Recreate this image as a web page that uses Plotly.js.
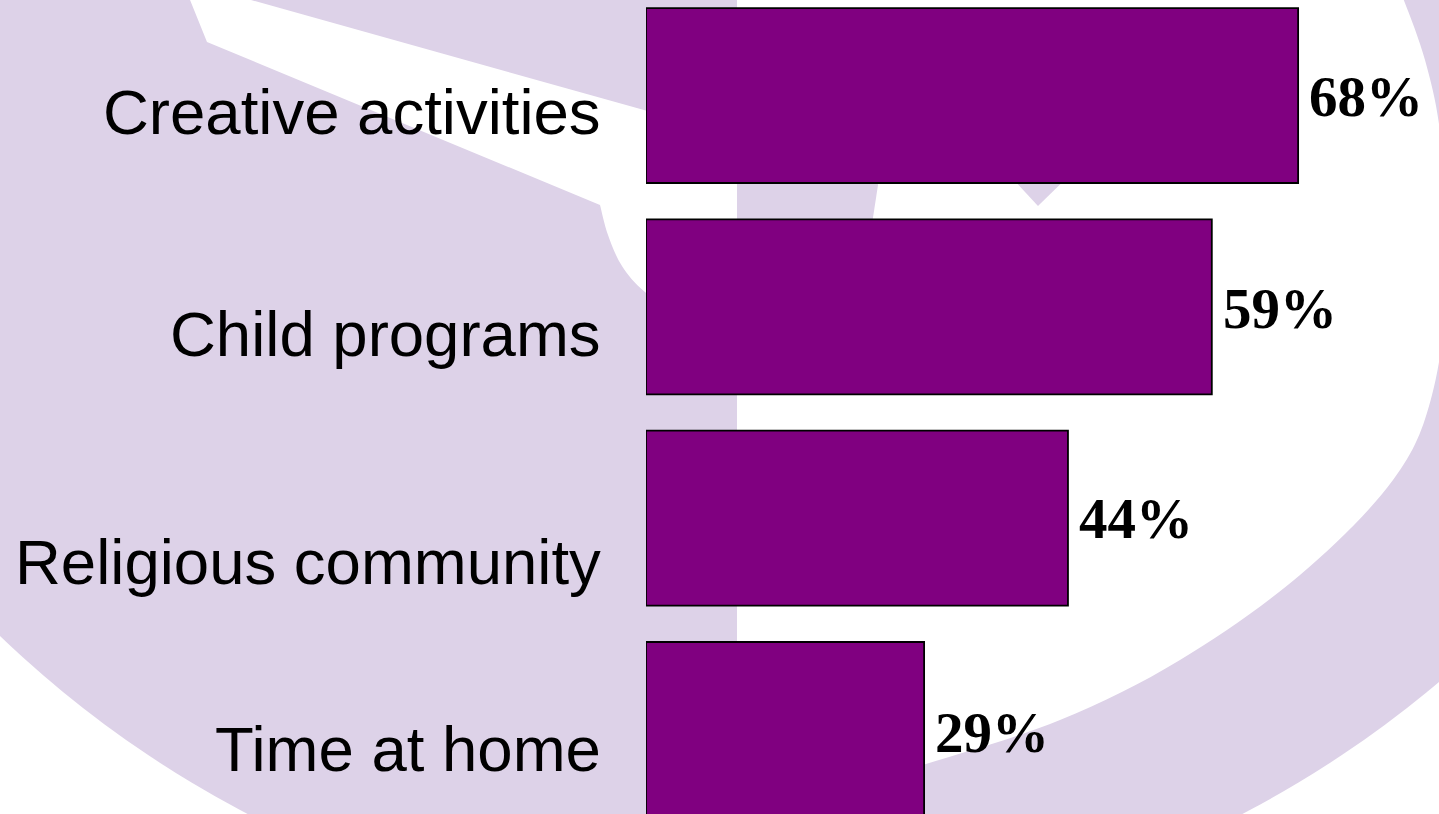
<!DOCTYPE html>
<html>
<head>
<meta charset="utf-8">
<script src="https://cdn.plot.ly/plotly-3.0.1.min.js"></script>
<style>
  html, body { margin: 0; padding: 0; background: #ffffff; overflow: hidden; }
  #chart { width: 1439px; height: 814px; }
</style>
</head>
<body>
<div id="chart"></div>
<script>
// ---- data ----
const categories = ['Creative activities', 'Child programs', 'Religious community', 'Time at home'];
const values = [68, 59, 44, 29];
const valueLabels = ['68%', '59%', '44%', '29%'];

// ---- style / layout helpers (not data) ----
const W = 1439, H = 814;
const labelDrop = [16.5, 27, 44, 20];   // px the category text sits below the bar centre
const pctDrop = [1, 1.5, 0, 3];
const LAV = 'rgb(221,210,232)';

function toXY(p) { return (p[0] / W).toFixed(5) + ',' + (1 - p[1] / H).toFixed(5); }
function smooth(pts) {
  let s = '';
  for (let i = 0; i < pts.length - 1; i++) {
    const p0 = pts[Math.max(i - 1, 0)], p1 = pts[i], p2 = pts[i + 1], p3 = pts[Math.min(i + 2, pts.length - 1)];
    const c1 = [p1[0] + (p2[0] - p0[0]) / 6, p1[1] + (p2[1] - p0[1]) / 6];
    const c2 = [p2[0] - (p3[0] - p1[0]) / 6, p2[1] - (p3[1] - p1[1]) / 6];
    s += ' C ' + toXY(c1) + ' ' + toXY(c2) + ' ' + toXY(p2);
  }
  return s;
}
function poly(pts) { return 'M ' + pts.map(toXY).join(' L ') + ' Z'; }

const discC = [745, -139], discR = 1075;
const shapes = [
  { type: 'circle', xref: 'paper', yref: 'paper', layer: 'below',
    x0: (discC[0] - discR) / W, x1: (discC[0] + discR) / W,
    y0: 1 - (discC[1] + discR) / H, y1: 1 - (discC[1] - discR) / H,
    fillcolor: LAV, line: { width: 0 } },
  { type: 'path', xref: 'paper', yref: 'paper', layer: 'below', fillcolor: '#ffffff', line: { width: 0 },
    path: 'M ' + toXY([737, -10]) + ' L ' + toXY([1400, -10]) +
      smooth([[1400, -10], [1425, 60], [1441, 140], [1448, 270], [1432, 395], [1393, 480], [1300, 575],
              [1180, 660], [1060, 720], [926, 764], [820, 795], [737, 812]]) + ' Z' },
  { type: 'path', xref: 'paper', yref: 'paper', layer: 'below', fillcolor: '#ffffff', line: { width: 0 },
    path: 'M ' + toXY([186, -10]) + ' L ' + toXY([207, 42]) + ' L ' + toXY([600, 205]) +
      smooth([[600, 205], [608, 235], [622, 266], [645, 292], [690, 325], [737, 340]]) +
      ' L ' + toXY([737, 136]) + ' L ' + toXY([644, 110]) + ' L ' + toXY([251, 0]) + ' L ' + toXY([247, -10]) + ' Z' },
  { type: 'path', xref: 'paper', yref: 'paper', layer: 'below', fillcolor: LAV, line: { width: 0 },
    path: poly([[737, 140], [866, 140], [878, 185], [872, 224], [737, 224]]) },
  { type: 'path', xref: 'paper', yref: 'paper', layer: 'below', fillcolor: LAV, line: { width: 0 },
    path: poly([[1000, 165], [1080, 165], [1038, 206]]) }
];

const annotations = [];
categories.forEach((c, i) => {
  annotations.push({
    xref: 'paper', x: 603 / W, xanchor: 'right',
    yref: 'y', y: c, yanchor: 'middle', yshift: -labelDrop[i],
    text: c, showarrow: false,
    font: { family: 'Liberation Sans, Arial, sans-serif', size: 63.5, color: '#000000' }
  });
  annotations.push({
    xref: 'x', x: values[i], xanchor: 'left', xshift: 9,
    yref: 'y', y: c, yanchor: 'middle', yshift: -pctDrop[i],
    text: '<b>' + valueLabels[i] + '</b>', showarrow: false,
    font: { family: 'Liberation Serif, Times New Roman, serif', size: 57, color: '#000000' }
  });
});

const trace = {
  type: 'bar', orientation: 'h',
  x: values, y: categories,
  marker: { color: '#800080', line: { color: '#000000', width: 1.8 } },
  hoverinfo: 'none', cliponaxis: false
};

const layout = {
  width: W, height: H,
  margin: { l: 0, r: 0, t: 0, b: 0, pad: 0 },
  paper_bgcolor: '#ffffff', plot_bgcolor: 'rgba(0,0,0,0)',
  showlegend: false, bargap: 0.172,
  xaxis: { domain: [646 / W, 1], range: [0, 793 / 9.59], visible: false, fixedrange: true },
  yaxis: { type: 'category', categoryorder: 'array', categoryarray: categories,
           range: [3.40, -0.452], visible: false, fixedrange: true },
  shapes: shapes,
  annotations: annotations
};

Plotly.newPlot('chart', [trace], layout, { displayModeBar: false, staticPlot: true });
</script>
</body>
</html>
